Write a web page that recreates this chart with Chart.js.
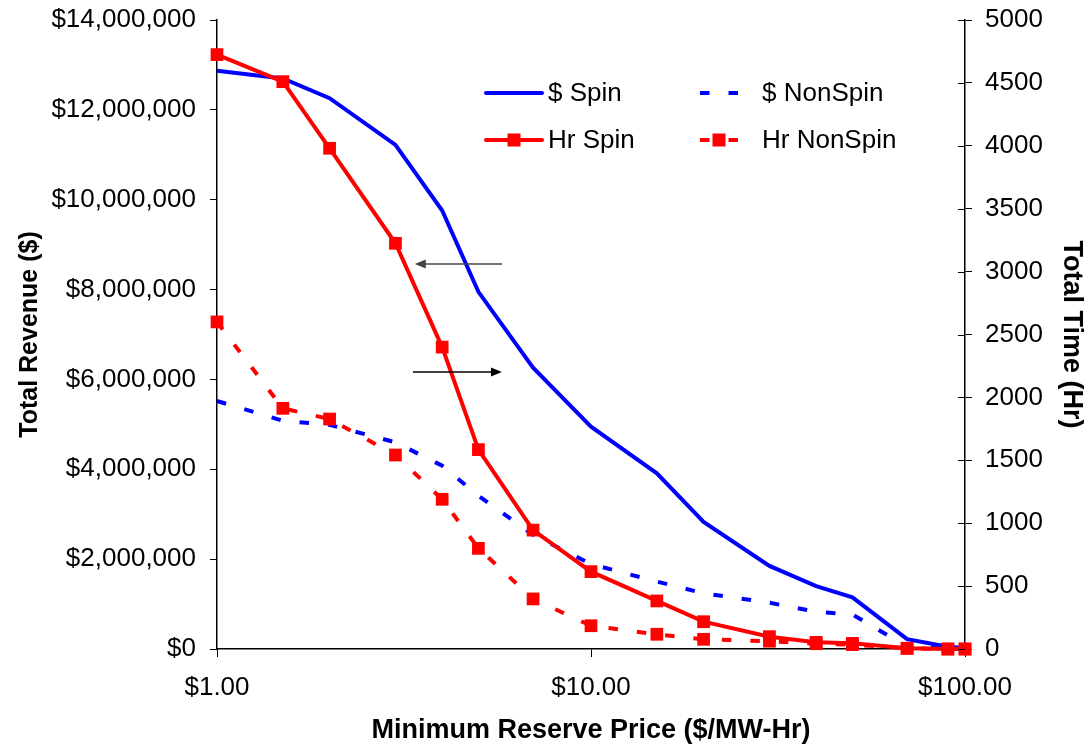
<!DOCTYPE html>
<html>
<head>
<meta charset="utf-8">
<script src="https://cdn.jsdelivr.net/npm/chart.js@4.4.1/dist/chart.umd.min.js"></script>
<style>
  html, body { margin: 0; padding: 0; background: #fff; }
  #wrap { width: 1088px; height: 748px; position: relative; }
</style>
</head>
<body>
<div id="wrap"><canvas id="chart" width="1088" height="748"></canvas></div>
<script>
// Minimum reserve price ($/MW-Hr)
const prices = [1, 1.5, 2, 3, 4, 5, 7, 10, 15, 20, 30, 40, 50, 70, 90, 100];
// Total revenue ($)
const revenueSpin    = [12870000, 12700000, 12260000, 11220000, 9760000, 7950000, 6260000, 4950000, 3910000, 2830000, 1850000, 1400000, 1150000, 220000, 50000, 20000];
const revenueNonSpin = [5520000, 5080000, 4990000, 4600000, 4080000, 3410000, 2540000, 1890000, 1500000, 1240000, 1030000, 830000, 770000, 50000, 10000, 0];
// Total time (Hr)
const hoursSpin    = [4725, 4510, 3980, 3225, 2400, 1585, 945, 615, 382, 217, 98, 53, 45, 6, 0, 0];
const hoursNonSpin = [2600, 1913, 1828, 1542, 1190, 800, 398, 185, 117, 77, 62, 42, 35, 5, 0, 0];
// Axis ticks
const priceTicks = [1, 10, 100];
const revenueTicks = [0, 2000000, 4000000, 6000000, 8000000, 10000000, 12000000, 14000000];
const hourTicks = [0, 500, 1000, 1500, 2000, 2500, 3000, 3500, 4000, 4500, 5000];

const FONT = '"Liberation Sans", Arial, Helvetica, sans-serif';
const BLUE = '#0000ff';
const RED = '#ff0000';
const DASH = [9.5, 19];

const toPoints = ys => prices.map((p, i) => ({ x: p, y: ys[i] }));

// Arrows pointing each family of curves to its axis (data units)
const arrowNotes = [
  { axis: 'yRev', y: 8570000, from: 5.78, to: 3.38, color: '#444' },
  { axis: 'yHr',  y: 2202,    from: 3.34, to: 5.78, color: '#000' }
];

const legendItems = [
  { text: '$ Spin',     color: BLUE, dash: null, marker: false, col: 0, row: 0 },
  { text: '$ NonSpin',  color: BLUE, dash: DASH, marker: false, col: 1, row: 0 },
  { text: 'Hr Spin',    color: RED,  dash: null, marker: true,  col: 0, row: 1 },
  { text: 'Hr NonSpin', color: RED,  dash: DASH, marker: true,  col: 1, row: 1 }
];

const extras = {
  id: 'extras',
  afterDraw(chart) {
    const ctx = chart.ctx;
    const area = chart.chartArea;
    const yHr = chart.scales.yHr;
    const x = chart.scales.x;

    // right axis ticks also cross into the plot
    ctx.save();
    ctx.strokeStyle = '#000';
    ctx.lineWidth = 1;
    hourTicks.forEach(v => {
      const py = Math.round(yHr.getPixelForValue(v)) + 0.5;
      ctx.beginPath();
      ctx.moveTo(area.right - 7, py);
      ctx.lineTo(area.right, py);
      ctx.stroke();
    });
    ctx.restore();

    // arrows
    arrowNotes.forEach(a => {
      const sc = chart.scales[a.axis];
      const py = sc.getPixelForValue(a.y);
      const x0 = x.getPixelForValue(a.from);
      const x1 = x.getPixelForValue(a.to);
      const dir = Math.sign(x1 - x0);
      ctx.save();
      ctx.strokeStyle = a.color;
      ctx.fillStyle = a.color;
      ctx.lineWidth = 1.6;
      ctx.beginPath();
      ctx.moveTo(x0, py);
      ctx.lineTo(x1 - dir * 8, py);
      ctx.stroke();
      ctx.beginPath();
      ctx.moveTo(x1, py);
      ctx.lineTo(x1 - dir * 11, py - 4.5);
      ctx.lineTo(x1 - dir * 11, py + 4.5);
      ctx.closePath();
      ctx.fill();
      ctx.restore();
    });

    // legend
    const colX = [area.left + 269, area.left + 483];
    const colW = [56, 38];
    const rowY = [area.top + 73, area.top + 120];
    ctx.save();
    legendItems.forEach(it => {
      const lx = colX[it.col];
      const w = colW[it.col];
      const ly = rowY[it.row];
      ctx.strokeStyle = it.color;
      ctx.lineWidth = 4;
      ctx.lineCap = it.dash ? 'butt' : 'round';
      ctx.setLineDash(it.dash || []);
      ctx.beginPath();
      ctx.moveTo(lx, ly);
      ctx.lineTo(lx + w, ly);
      ctx.stroke();
      ctx.setLineDash([]);
      if (it.marker) {
        ctx.fillStyle = it.color;
        ctx.fillRect(lx + w / 2 - 6.5, ly - 6.5, 13, 13);
      }
      ctx.fillStyle = '#000';
      ctx.font = '26px ' + FONT;
      ctx.textBaseline = 'middle';
      ctx.textAlign = 'left';
      ctx.fillText(it.text, lx + w + (it.col === 0 ? 6 : 24), ly + 1);
    });
    ctx.restore();
  }
};

const tickFont = { family: FONT, size: 26 };
const titleFont = { family: FONT, size: 27, weight: 'bold' };

new Chart(document.getElementById('chart'), {
  type: 'line',
  data: {
    datasets: [
      { label: 'Hr Spin', data: toPoints(hoursSpin), yAxisID: 'yHr', order: 0,
        borderColor: RED, borderWidth: 4, pointStyle: 'rect', pointRadius: 9,
        pointBackgroundColor: RED, pointBorderColor: RED, pointBorderWidth: 0, clip: false },
      { label: 'Hr NonSpin', data: toPoints(hoursNonSpin), yAxisID: 'yHr', order: 1,
        borderColor: RED, borderWidth: 4, borderDash: DASH, pointStyle: 'rect', pointRadius: 9,
        pointBackgroundColor: RED, pointBorderColor: RED, pointBorderWidth: 0, clip: false },
      { label: '$ Spin', data: toPoints(revenueSpin), yAxisID: 'yRev', order: 2,
        borderColor: BLUE, borderWidth: 4, pointRadius: 0, clip: false },
      { label: '$ NonSpin', data: toPoints(revenueNonSpin), yAxisID: 'yRev', order: 3,
        borderColor: BLUE, borderWidth: 4, borderDash: DASH, pointRadius: 0, clip: false }
    ]
  },
  options: {
    responsive: false,
    animation: false,
    layout: { padding: { top: 20, left: 0, right: 0, bottom: 0 } },
    elements: { line: { tension: 0, borderCapStyle: 'butt', borderJoinStyle: 'miter' } },
    plugins: { legend: { display: false }, tooltip: { enabled: false } },
    scales: {
      x: {
        type: 'logarithmic', position: 'bottom', min: 1, max: 100,
        afterBuildTicks: s => { s.ticks = priceTicks.map(v => ({ value: v, major: true })); },
        afterFit: s => { s.height = 99; s.paddingLeft = 0; s.paddingRight = 0; },
        ticks: { callback: v => '$' + Number(v).toFixed(2), font: tickFont, color: '#000',
                 padding: 15, maxRotation: 0, autoSkip: false },
        grid: { drawOnChartArea: false, drawTicks: true, tickLength: 8, color: '#000', lineWidth: 1 },
        border: { color: '#000', width: 1.5 },
        title: { display: true, text: 'Minimum Reserve Price ($/MW-Hr)', font: titleFont, color: '#000',
                 padding: { top: 0, bottom: 1 } }
      },
      yRev: {
        type: 'linear', position: 'left', min: 0, max: 14000000,
        afterBuildTicks: s => { s.ticks = revenueTicks.map(v => ({ value: v })); },
        afterFit: s => { s.width = 217; s.paddingTop = 0; s.paddingBottom = 0; },
        ticks: { callback: v => '$' + Number(v).toLocaleString('en-US'), font: tickFont, color: '#000', padding: 14 },
        grid: { drawOnChartArea: false, drawTicks: true, tickLength: 7, color: '#000', lineWidth: 1 },
        border: { color: '#000', width: 1.5 },
        title: { display: true, text: 'Total Revenue ($)', font: { family: FONT, size: 25, weight: 'bold' },
                 color: '#000', padding: { top: 15, bottom: 0 } }
      },
      yHr: {
        type: 'linear', position: 'right', min: 0, max: 5000,
        afterBuildTicks: s => { s.ticks = hourTicks.map(v => ({ value: v })); },
        afterFit: s => { s.width = 123; s.paddingTop = 0; s.paddingBottom = 0; },
        ticks: { callback: v => String(v), font: tickFont, color: '#000', padding: 13 },
        grid: { drawOnChartArea: false, drawTicks: true, tickLength: 7, color: '#000', lineWidth: 1 },
        border: { color: '#000', width: 1.5 },
        title: { display: true, text: 'Total Time (Hr)', font: titleFont, color: '#000',
                 padding: { top: 0, bottom: 0 } }
      }
    }
  },
  plugins: [extras]
});
</script>
</body>
</html>
